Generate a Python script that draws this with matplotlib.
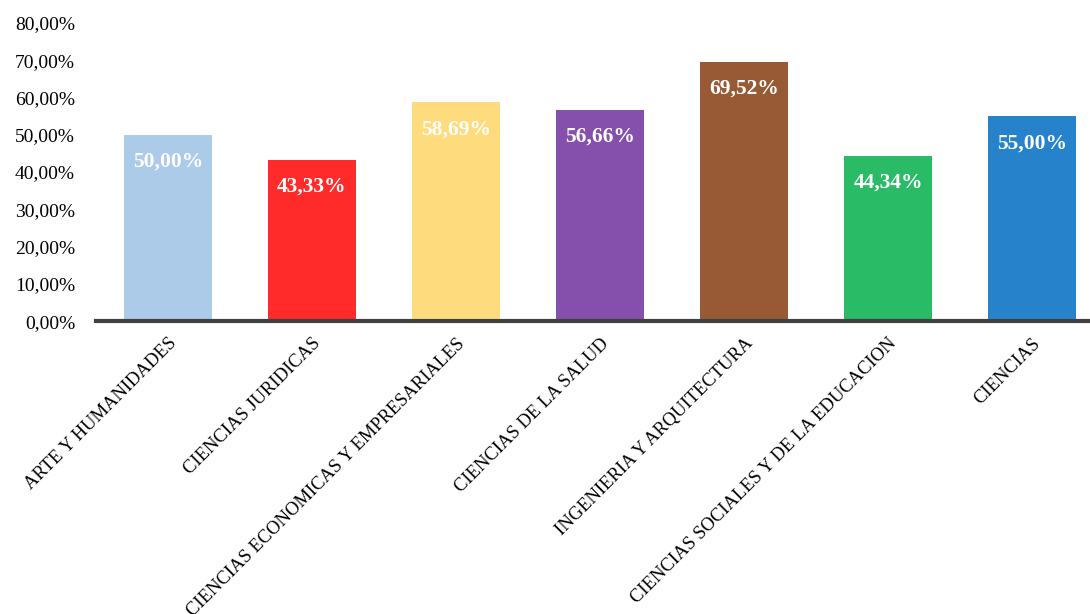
import matplotlib.pyplot as plt
from matplotlib.ticker import FuncFormatter

plt.rcParams['font.family'] = ['Liberation Serif', 'DejaVu Serif']

categorias = ['ARTE Y HUMANIDADES', 'CIENCIAS JURIDICAS',
              'CIENCIAS ECONOMICAS Y EMPRESARIALES', 'CIENCIAS DE LA SALUD',
              'INGENIERIA Y ARQUITECTURA', 'CIENCIAS SOCIALES Y DE LA EDUCACION',
              'CIENCIAS']
valores = [50.00, 43.33, 58.69, 56.66, 69.52, 44.34, 55.00]
colores = ['#ABCBE8', '#FF2A2A', '#FEDC7E', '#8450AB', '#985A34', '#2ABB66', '#2683CB']

fig = plt.figure(figsize=(10.9, 6.14), dpi=100)
ax = fig.add_axes([0.088, 0.477, 0.925, 0.4855])

x = range(len(categorias))
bars = ax.bar(x, valores, width=0.61, color=colores, zorder=2)

for b, v in zip(bars, valores):
    ax.annotate(f'{v:.2f}%'.replace('.', ','),
                (b.get_x() + b.get_width() / 2, v),
                xytext=(0, -27), textcoords='offset pixels',
                ha='center', va='center', color='white',
                fontsize=15.5, fontweight='bold')

ax.set_ylim(0, 80)
ax.set_xlim(-0.5, len(categorias) - 0.5)
ax.set_yticks(range(0, 81, 10))
ax.yaxis.set_major_formatter(FuncFormatter(lambda v, p: f'{v:.2f}%'.replace('.', ',')))
ax.tick_params(axis='y', length=0, labelsize=14, pad=15)
ax.tick_params(axis='x', length=0, labelsize=13.3, pad=10)
ax.set_xticks(list(x))
ax.set_xticklabels(categorias, rotation=45, ha='right', rotation_mode='anchor')

for s in ['left', 'right', 'top']:
    ax.spines[s].set_visible(False)
ax.spines['bottom'].set_color('#404040')
ax.spines['bottom'].set_linewidth(3)
ax.spines['bottom'].set_zorder(3)

plt.savefig('out.png', dpi=100)
